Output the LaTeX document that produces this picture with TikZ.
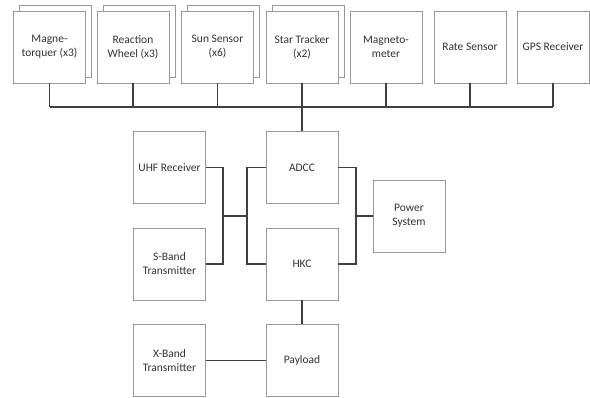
\documentclass[tikz,border=0pt]{standalone}
\usepackage{fontspec}
\setmainfont{Carlito}
\usepackage{tikz}
\usetikzlibrary{shadows}

\begin{document}
\begin{tikzpicture}
          [
            x=1pt,y=-1pt,
            box/.style={draw=black!40,fill=white,thin,minimum width=72pt,minimum height=72pt,
              inner sep=1pt,align=center,text=black!80,font=\fontsize{11.5}{14}\selectfont},
            stack/.style={box,copy shadow={shadow xshift=6pt,shadow yshift=6pt,draw=black!40,fill=white,thin}},
            wire/.style={draw=black!75,line width=1.3pt}
          ]
          \useasboundingbox (0,0) rectangle (590,398);
          % top row
          \node[stack] (mtq) at (49.5,47) {Magne-\\torquer (x3)};
          \node[stack] (rw) at (133,47) {Reaction\\Wheel (x3)};
          \node[stack] (sun) at (217.5,47) {Sun Sensor\\(x6)};
          \node[stack] (star) at (302,47) {Star Tracker\\(x2)};
          \node[box] (mag) at (386,47) {Magneto-\\meter};
          \node[box] (rate) at (470,47) {Rate Sensor};
          \node[box] (gps) at (553,47) {GPS Receiver};
          % lower blocks
          \node[box] (uhf) at (169.5,167.5) {UHF Receiver};
          \node[box] (sband) at (169.5,264) {S-Band\\Transmitter};
          \node[box] (xband) at (169.5,360.5) {X-Band\\Transmitter};
          \node[box] (adcc) at (302,167.5) {ADCC};
          \node[box] (hkc) at (302,264) {HKC};
          \node[box] (pay) at (302,360.5) {Payload};
          \node[box] (pwr) at (409,216) {Power\\System};
          % bus
          \coordinate (bus) at (302,107);
          \foreach \n in {mtq,rw,sun,mag,rate,gps} {
              \draw[wire] (\n.south) -- (\n.south |- bus);
          }
          \draw[wire] (mtq.south |- bus) -- (gps.south |- bus);
          \draw[wire] (star.south) -- (adcc.north);
          % links
          \coordinate (jl) at (223,216);
          \coordinate (jm) at (247,216);
          \coordinate (jr) at (356,216);
          \draw[wire] (uhf.east) -| (jl);
          \draw[wire] (sband.east) -| (jl);
          \draw[wire] (jl) -- (jm);
          \draw[wire] (adcc.west) -| (jm);
          \draw[wire] (hkc.west) -| (jm);
          \draw[wire] (adcc.east) -| (jr);
          \draw[wire] (hkc.east) -| (jr);
          \draw[wire] (jr) -- (pwr.west);
          \draw[wire] (hkc.south) -- (pay.north);
          \draw[wire] (xband.east) -- (pay.west);
\end{tikzpicture}
\end{document}
